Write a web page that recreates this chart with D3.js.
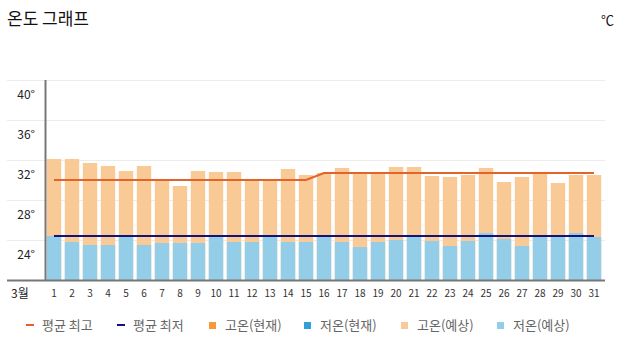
<!DOCTYPE html>
<html>
<head>
  <meta charset="utf-8">
  <script src="https://d3js.org/d3.v7.min.js"></script>
  <style>
    body { margin: 0; background: #fff; }
    text { font-family: "Noto Sans CJK KR", "Liberation Sans", sans-serif; }
  </style>
</head>
<body>
<svg id="chart" width="627" height="352"></svg>
<script>
// data
var days = d3.range(1, 32);
var highs = [32.1, 32.1, 31.7, 31.4, 30.9, 31.4, 30.0, 29.4, 30.9, 30.8, 30.8, 30.0, 30.0, 31.1, 30.5, 30.7,
             31.2, 30.7, 30.7, 31.3, 31.3, 30.4, 30.3, 30.5, 31.2, 29.8, 30.3, 30.8, 29.7, 30.5, 30.5];
var lows = [24.4, 23.8, 23.5, 23.5, 24.4, 23.5, 23.7, 23.7, 23.7, 24.4, 23.8, 23.8, 24.4, 23.8, 23.8, 24.4,
            23.8, 23.3, 23.8, 24.0, 24.3, 23.9, 23.4, 23.9, 24.7, 24.1, 23.4, 24.3, 24.3, 24.7, 24.3];
var avgHigh = [30.0, 30.0, 30.0, 30.0, 30.0, 30.0, 30.0, 30.0, 30.0, 30.0, 30.0, 30.0, 30.0, 30.0, 30.0, 30.7,
               30.7, 30.7, 30.7, 30.7, 30.7, 30.7, 30.7, 30.7, 30.7, 30.7, 30.7, 30.7, 30.7, 30.7, 30.7];
var avgLow = [24.4, 24.4, 24.4, 24.4, 24.4, 24.4, 24.4, 24.4, 24.4, 24.4, 24.4, 24.4, 24.4, 24.4, 24.4, 24.4,
              24.4, 24.4, 24.4, 24.4, 24.4, 24.4, 24.4, 24.4, 24.4, 24.4, 24.4, 24.4, 24.4, 24.4, 24.4];
var yTicks = [24, 28, 32, 36, 40];
var legendItems = [
  { name: "평균 최고", type: "line", color: "#e3642b" },
  { name: "평균 최저", type: "line", color: "#12127a" },
  { name: "고온(현재)", type: "rect", color: "#f7993a" },
  { name: "저온(현재)", type: "rect", color: "#2fa0d9" },
  { name: "고온(예상)", type: "rect", color: "#f9c996" },
  { name: "저온(예상)", type: "rect", color: "#93cde8" }
];

var svg = d3.select("#chart");
var x = d3.scaleBand().domain(days).range([45, 603]).paddingInner(0.2).paddingOuter(0.1);
var y = d3.scaleLinear().domain([20, 40]).range([280, 80]);
var cx = function(d, i) { return x(days[i]) + x.bandwidth() / 2; };

// title
svg.append("text").attr("x", 7).attr("y", 25).attr("font-size", 17).attr("fill", "#111").text("온도 그래프");
svg.append("text").attr("x", 614).attr("y", 25).attr("text-anchor", "end").attr("font-size", 13)
   .attr("fill", "#111").text("℃");

// grid
svg.append("g").selectAll("line").data(yTicks).enter().append("line")
   .attr("x1", 7).attr("x2", 605)
   .attr("y1", d => Math.round(y(d)) + 0.5).attr("y2", d => Math.round(y(d)) + 0.5)
   .attr("stroke", "#ececec");

svg.append("g").selectAll("text").data(yTicks).enter().append("text")
   .attr("x", 35).attr("y", d => y(d) + 19).attr("text-anchor", "end")
   .attr("font-size", 12).attr("fill", "#222").text(d => d + "°");

// bars: whole bar light orange, low part light blue
svg.append("g").selectAll("rect").data(highs).enter().append("rect")
   .attr("x", (d, i) => x(days[i])).attr("width", x.bandwidth())
   .attr("y", d => y(d)).attr("height", d => y(20) - y(d))
   .attr("fill", "#f9c996");
svg.append("g").selectAll("rect").data(lows).enter().append("rect")
   .attr("x", (d, i) => x(days[i])).attr("width", x.bandwidth())
   .attr("y", d => y(d)).attr("height", d => y(20) - y(d))
   .attr("fill", "#93cde8");

// average lines
var line = d3.line().x(cx).y(d => y(d));
svg.append("path").datum(avgHigh).attr("d", line).attr("fill", "none")
   .attr("stroke", "#e3642b").attr("stroke-width", 2);
svg.append("path").datum(avgLow).attr("d", line).attr("fill", "none")
   .attr("stroke", "#12127a").attr("stroke-width", 2);

// axes
svg.append("line").attr("x1", 45.5).attr("x2", 45.5).attr("y1", 80).attr("y2", 280)
   .attr("stroke", "#777").attr("stroke-width", 2);
svg.append("line").attr("x1", 7).attr("x2", 605).attr("y1", 280.5).attr("y2", 280.5)
   .attr("stroke", "#777").attr("stroke-width", 2);

svg.append("text").attr("x", 11).attr("y", 298).attr("font-size", 12).attr("fill", "#222").text("3월");
svg.append("g").selectAll("text").data(days).enter().append("text")
   .attr("x", (d, i) => cx(d, i)).attr("y", 297).attr("text-anchor", "middle")
   .attr("font-family", "Liberation Sans Narrow, Liberation Sans, sans-serif")
   .attr("font-size", 10).attr("fill", "#333").text(d => d);

// legend
var legendX = [26, 117, 209, 304, 401, 497];
var lg = svg.append("g").selectAll("g").data(legendItems).enter().append("g")
   .attr("transform", (d, i) => "translate(" + legendX[i] + ",325)");
lg.filter(d => d.type == "line").append("rect")
   .attr("x", 0).attr("y", -1).attr("width", 8).attr("height", 2).attr("fill", d => d.color);
lg.filter(d => d.type == "rect").append("rect")
   .attr("x", 0).attr("y", -3).attr("width", 7).attr("height", 7).attr("fill", d => d.color);
lg.append("text").attr("x", (d, i) => i < 2 ? 16 : 16).attr("y", 5)
   .attr("font-size", 13).attr("fill", "#666").text(d => d.name);
</script>
</body>
</html>
